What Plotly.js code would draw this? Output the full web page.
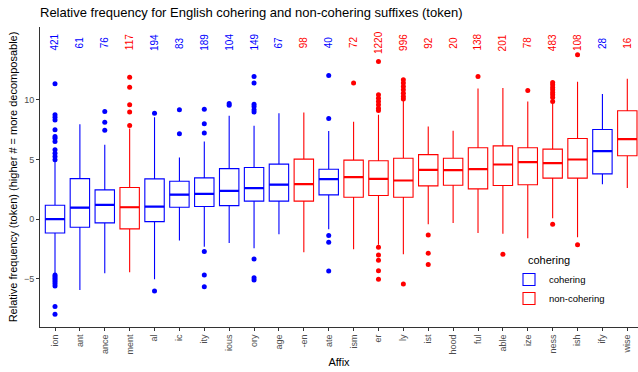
<!DOCTYPE html>
<html><head><meta charset="utf-8">
<script src="https://cdn.plot.ly/plotly-3.0.1.min.js"></script>
<style>html,body{margin:0;padding:0;background:#fff}#chart{width:638px;height:372px}</style>
</head><body><div id="chart"></div>
<script>
const categories = ['ion','ant','ance','ment','al','ic','ity','ious','ory','age','-en','ate','ism','er','ly','ist','hood','ful','able','ize','ness','ish','ify','wise'];
const group = ['cohering','cohering','cohering','non-cohering','cohering','cohering','cohering','cohering','cohering','cohering','non-cohering','cohering',
  'non-cohering','non-cohering','non-cohering','non-cohering','non-cohering','non-cohering','non-cohering','non-cohering','non-cohering','non-cohering','cohering','non-cohering'];
const counts = [421,61,76,117,194,83,189,104,149,67,98,40,72,1220,996,92,20,138,201,78,483,108,28,16];
const q1 = [-1.15,-0.67,-0.31,-0.81,-0.2,1.0,1.06,1.14,1.51,1.51,1.51,2.04,1.84,1.98,1.84,2.79,2.85,2.54,2.82,2.88,3.44,3.44,3.8,5.31];
const median = [0,0.97,1.2,1.0,1.06,2.06,2.12,2.37,2.6,2.9,2.93,3.35,3.52,3.38,3.24,4.13,4.11,4.19,4.58,4.78,4.69,5.0,5.7,6.71];
const q3 = [1.17,3.4,2.46,2.65,3.38,3.18,3.46,4.24,4.33,4.61,5.03,4.19,4.95,4.89,5.11,5.41,5.11,5.98,6.14,5.98,5.87,6.76,7.51,9.08];
const lowerWhisker = [-4.53,-5.93,-4.53,-4.44,-5.03,-1.79,-2.3,-1.99,-2.43,-1.26,-2.77,-0.84,-2.51,-2.15,-2.93,-0.42,-0.31,-1.15,-1.21,-1.59,0.08,-1.51,2.93,2.62];
const upperWhisker = [4.85,7.96,6.23,7.6,8.55,5.16,6.5,8.66,7.82,8.88,8.94,7.38,8.16,8.75,10.0,7.76,7.4,10.95,11.0,9.86,9.77,11.51,10.48,11.76];
const outliers = [
  [11.34,8.74,8.55,8.32,7.49,6.93,6.79,6.51,5.81,5.53,5.25,4.97,-4.67,-4.81,-4.95,-5.09,-5.23,-5.4,-5.59,-7.32,-7.96],
  [],
  [9.02,8.13,7.46],
  [11.9,11.06,9.58,8.97,7.85],
  [8.88,-6.01],
  [9.16,7.15],
  [9.22,7.99,7.23,-2.71,-4.67,-5.65],
  [9.69,9.55],
  [11.95,11.4,9.63,9.44,9.16,8.97,-3.33,-4.9,-5.09],
  [],
  [],
  [12.04,8.43,-1.37,-1.93,-4.33],
  [11.4],
  [13.21,10.42,10.14,9.86,9.58,9.3,9.1,-2.35,-2.99,-3.44,-4.31,-5.03],
  [11.68,11.4,11.12,10.84,10.56,10.28,10.06,-5.42],
  [-1.32,-2.85,-3.8],
  [],
  [11.95],
  [-2.93],
  [10.78],
  [11.45,11.26,11.03,10.84,10.61,10.42,10.19,9.86,-0.42],
  [13.77,-2.15],
  [],
  []
];
const yTicks = [-5,0,5,10];

const colors = {'cohering':'#0000FF','non-cohering':'#FF0000'};
const groups = ['cohering','non-cohering'];
const FONT = 'Liberation Sans, Arial, Helvetica, sans-serif';
const traces = [];
groups.forEach(g => {
  const idx = categories.map((c,i)=>i).filter(i=>group[i]===g);
  const pick = arr => idx.map(i=>arr[i]);
  traces.push({type:'box', name:g, legendgroup:g, x:pick(categories), q1:pick(q1), median:pick(median), q3:pick(q3),
    lowerfence:pick(lowerWhisker), upperfence:pick(upperWhisker), width:0.78, boxpoints:false, whiskerwidth:0,
    line:{color:colors[g], width:1.1}, fillcolor:'rgba(255,255,255,0)', hoverinfo:'skip'});
});
groups.forEach(g => {
  const idx = categories.map((c,i)=>i).filter(i=>group[i]===g);
  const pick = arr => idx.map(i=>arr[i]);
  traces.push({type:'box', name:g, legendgroup:g, showlegend:false, x:pick(categories), q1:pick(median), median:pick(median), q3:pick(median),
    lowerfence:pick(median), upperfence:pick(median), width:0.78, boxpoints:false, whiskerwidth:0,
    line:{color:colors[g], width:2.2}, fillcolor:'rgba(255,255,255,0)', hoverinfo:'skip'});
});
groups.forEach(g => {
  const xs = [], ys = [];
  categories.forEach((c,i) => { if (group[i]===g) outliers[i].forEach(v => { xs.push(c); ys.push(v); }); });
  traces.push({type:'scatter', mode:'markers', x:xs, y:ys, showlegend:false, legendgroup:g,
    marker:{color:colors[g], size:5}, hoverinfo:'skip'});
});

const annotations = counts.map((n,i) => ({x:i, y:14.8, xref:'x', yref:'y', text:String(n), textangle:-90, showarrow:false,
  font:{family:FONT, size:10, color:colors[group[i]]}}));
annotations.push({x:(526-40)/598, xref:'paper', xanchor:'left', y:(327-260)/300, yref:'paper', yanchor:'middle', text:'cohering',
  showarrow:false, font:{family:FONT, size:11, color:'#000'}});

const layout = {
  width:638, height:372,
  margin:{l:40, r:0, t:27, b:45},
  paper_bgcolor:'#fff', plot_bgcolor:'#fff',
  font:{family:FONT, color:'#000'},
  title:{text:'Relative frequency for English cohering and non-cohering suffixes (token)', x:40/638, xref:'container', xanchor:'left',
    y:1-12/372, yref:'container', yanchor:'middle', font:{family:FONT, size:13, color:'#000'}},
  boxmode:'overlay',
  showlegend:true,
  legend:{x:(509-40)/598, xanchor:'left', y:(327-265)/300, yanchor:'top',
    bgcolor:'rgba(0,0,0,0)', font:{size:9.5, color:'#000'}, tracegroupgap:0},
  xaxis:{type:'category', categoryorder:'array', categoryarray:categories, range:[-0.603, 23.43],
    showline:true, linecolor:'#333', linewidth:1, ticks:'outside', ticklen:3, tickcolor:'#333', tickangle:-90,
    tickfont:{size:9, color:'#4D4D4D'}, showgrid:false, zeroline:false,
    title:{text:'Affix', font:{size:11, color:'#000'}, standoff:4}},
  yaxis:{range:[-9.03, 16.1], tickvals:yTicks, showline:true, linecolor:'#333', linewidth:1, ticks:'outside', ticklen:3, tickcolor:'#333',
    tickfont:{size:9, color:'#4D4D4D'}, showgrid:false, zeroline:false,
    title:{text:'Relative frequency (token) (higher # = more decomposable)', font:{size:11, color:'#000'}, standoff:4}},
  annotations:annotations
};
Plotly.newPlot('chart', traces, layout, {staticPlot:true, displayModeBar:false});
</script></body></html>
